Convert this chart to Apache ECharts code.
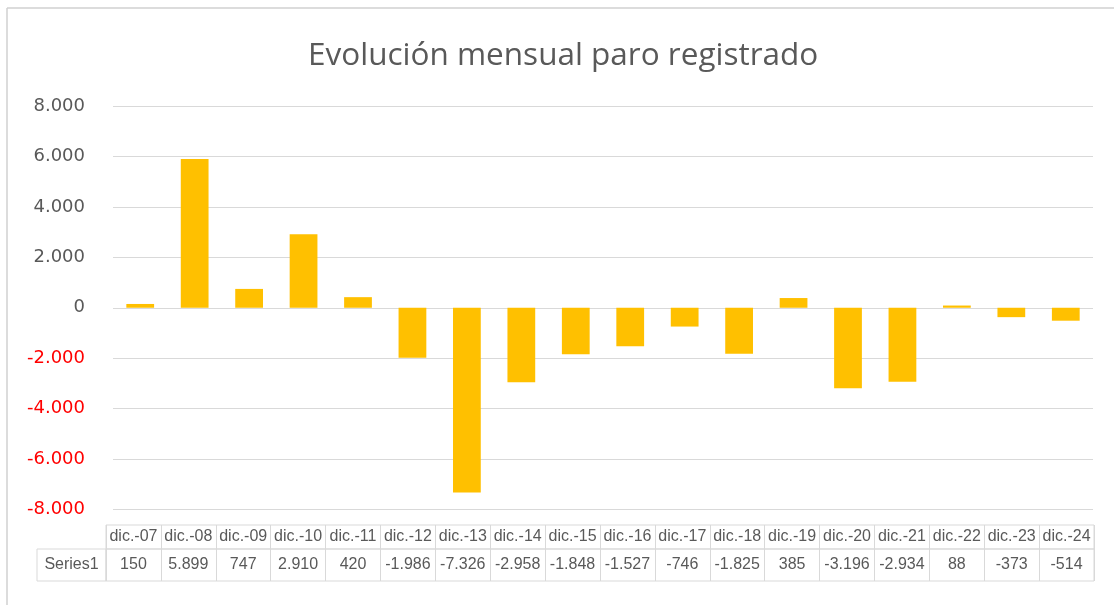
<!DOCTYPE html>
<html>
<head>
<meta charset="utf-8">
<script src="https://cdn.jsdelivr.net/npm/echarts@6/dist/echarts.min.js"></script>
<style>
html,body{margin:0;padding:0;background:#fff;}
#chart{width:1114px;height:605px;}
</style>
</head>
<body>
<div id="chart"></div>
<script>
const titleText = 'Evolución mensual paro registrado';
const seriesName = 'Series1';
const categories = ['dic.-07','dic.-08','dic.-09','dic.-10','dic.-11','dic.-12','dic.-13','dic.-14','dic.-15','dic.-16','dic.-17','dic.-18','dic.-19','dic.-20','dic.-21','dic.-22','dic.-23','dic.-24'];
const values = [150, 5899, 747, 2910, 420, -1986, -7326, -2958, -1848, -1527, -746, -1825, 385, -3196, -2934, 88, -373, -514];
const yMin = -8000, yMax = 8000, yStep = 2000;

function fmt(v) {
  v = Number(v);
  const s = Math.abs(v).toString().replace(/\B(?=(\d{3})+(?!\d))/g, '.');
  return (v < 0 ? '-' : '') + s;
}

const gridColor = '#d9d9d9';
const textColor = '#595959';
const chart = echarts.init(document.getElementById('chart'));
chart.setOption({
  animation: false,
  backgroundColor: '#fff',
  title: {
    text: titleText, left: 308, top: 40, padding: 0,
    textStyle: { fontFamily: 'Open Sans', fontSize: 31.5, fontWeight: 'normal', color: textColor }
  },
  grid: [
    { left: 113, right: 21, top: 106, height: 403.5 },
    { left: 106, right: 20, top: 525, height: 24, show: true, borderColor: gridColor, borderWidth: 1 },
    { left: 106, right: 20, top: 549, height: 32, show: true, borderColor: gridColor, borderWidth: 1 }
  ],
  xAxis: [
    { gridIndex: 0, type: 'category', data: categories, axisLine: { show: false }, axisTick: { show: false }, axisLabel: { show: false } },
    { gridIndex: 1, type: 'category', data: categories, axisLine: { show: false }, axisTick: { show: false },
      splitLine: { show: true, interval: 0, lineStyle: { color: gridColor } },
      axisLabel: { inside: true, interval: 0, verticalAlign: 'middle', margin: 12, color: textColor, fontFamily: 'Liberation Sans', fontSize: 16 } },
    { gridIndex: 2, type: 'category', data: categories, axisLine: { show: false }, axisTick: { show: false },
      splitLine: { show: true, interval: 0, lineStyle: { color: gridColor } },
      axisLabel: { inside: true, interval: 0, verticalAlign: 'middle', margin: 16, color: textColor, fontFamily: 'Liberation Sans', fontSize: 16,
        formatter: function (v, i) { return fmt(values[i]); } } }
  ],
  yAxis: [
    { gridIndex: 0, type: 'value', min: yMin, max: yMax, interval: yStep,
      axisLine: { show: false }, axisTick: { show: false },
      splitLine: { lineStyle: { color: gridColor, width: 1 } },
      axisLabel: { formatter: fmt, margin: 28, fontFamily: 'DejaVu Sans', fontSize: 18,
        color: function (v) { return Number(v) < 0 ? '#ff0000' : textColor; } } },
    { gridIndex: 1, type: 'value', show: false },
    { gridIndex: 2, type: 'value', show: false }
  ],
  series: [
    { name: seriesName, type: 'bar', xAxisIndex: 0, yAxisIndex: 0, data: values, barWidth: '51%', itemStyle: { color: '#FFC000' } }
  ],
  graphic: [
    { type: 'line', shape: { x1: 7, y1: 8, x2: 1114, y2: 8 }, style: { stroke: '#d0d0d0', lineWidth: 1.5 } },
    { type: 'line', shape: { x1: 7, y1: 8, x2: 7, y2: 605 }, style: { stroke: '#d0d0d0', lineWidth: 1.5 } },
    { type: 'rect', shape: { x: 37, y: 549, width: 69, height: 32 }, style: { fill: 'none', stroke: gridColor, lineWidth: 1 } },
    { type: 'text', style: { text: seriesName, x: 71.5, y: 565, align: 'center', verticalAlign: 'middle', fontFamily: 'Liberation Sans', fontSize: 16, fill: textColor } }
  ]
});
</script>
</body>
</html>
